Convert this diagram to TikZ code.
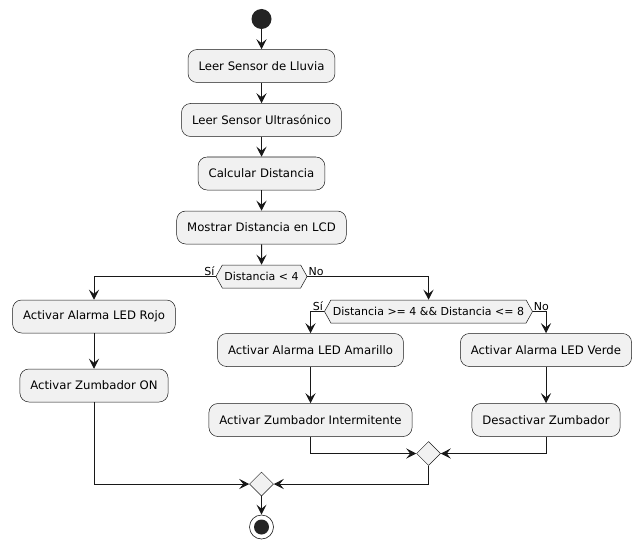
\documentclass[tikz,border=0pt]{standalone}
\usepackage{fontspec}
\setmainfont{DejaVu Sans}
\usetikzlibrary{arrows.meta,shapes.geometric,shapes.symbols}
\definecolor{umlfill}{HTML}{F1F1F1}
\definecolor{umlline}{HTML}{181818}
\tikzset{
	act/.style={draw=umlline, fill=umlfill, line width=0.5pt, rounded corners=9pt, minimum height=33pt, inner xsep=10.5pt, font=\fontsize{11.7}{14}\selectfont},
	cond/.style={signal, signal to=west and east, signal pointer angle=122, draw=umlline, fill=umlfill, line width=0.5pt, minimum height=23pt, inner xsep=2pt, inner ysep=2pt, font=\fontsize{11}{13}\selectfont},
	merge/.style={diamond, draw=umlline, fill=umlfill, line width=0.5pt, minimum size=24pt, inner sep=0pt},
	lbl/.style={inner sep=1pt, font=\fontsize{11}{13}\selectfont},
	flow/.style={draw=umlline, line width=1pt, -{Stealth[length=10pt, width=10pt, inset=4pt]}}
}
\begin{document}
\begin{tikzpicture}[x=1pt, y=-1pt]
	\useasboundingbox (0,0) rectangle (644,548);
	
	\node[circle, fill=umlline!95!white, minimum size=20pt, inner sep=0pt] (start) at (261.5,19) {};
	\node[act] (lluvia) at (261.5,66) {Leer Sensor de Lluvia};
	\node[act] (ultra) at (261.5,120) {Leer Sensor Ultrasónico};
	\node[act] (calc) at (261.5,173.5) {Calcular Distancia};
	\node[act] (lcd) at (261.5,227.5) {Mostrar Distancia en LCD};
	\node[cond] (dA) at (261.5,276.5) {Distancia < 4};
	
	\node[act] (rojo) at (94,316.5) {Activar Alarma LED Rojo};
	\node[act] (zon) at (94,385.5) {Activar Zumbador ON};
	
	\node[cond] (dB) at (428.5,311.5) {Distancia >= 4 \&\& Distancia <= 8};
	\node[act] (amarillo) at (310.5,350) {Activar Alarma LED Amarillo};
	\node[act] (zint) at (310.5,420) {Activar Zumbador Intermitente};
	\node[act] (verde) at (546,350) {Activar Alarma LED Verde};
	\node[act] (zoff) at (546,420) {Desactivar Zumbador};
	
	\node[merge] (mB) at (428.5,453.5) {};
	\node[merge] (mA) at (261.5,484) {};
	\node[circle, draw=umlline, line width=0.6pt, fill=white, minimum size=24pt, inner sep=0pt] (stop) at (261.5,527) {};
	\node[circle, fill=umlline!95!white, minimum size=15pt, inner sep=0pt] at (stop) {};
	
	\foreach \a/\b in {start/lluvia, lluvia/ultra, ultra/calc, calc/lcd, lcd/dA, rojo/zon, amarillo/zint, verde/zoff, mA/stop}{
		\draw[flow] (\a) -- (\b);
	}
	
	\draw[flow] (dA.west) -| (rojo.north);
	\draw[flow] (dA.east) -| (dB.north);
	\draw[flow] (dB.west) -| (amarillo.north);
	\draw[flow] (dB.east) -| (verde.north);
	\draw[flow] (zint.south) |- (mB.west);
	\draw[flow] (zoff.south) |- (mB.east);
	\draw[flow] (mB.south) |- (mA.east);
	\draw[flow] (zon.south) |- (mA.west);
	
	\node[lbl, anchor=south east] (siA) at (dA.west) {Sí};
	\node[lbl, anchor=south west] (noA) at (dA.east) {No};
	\node[lbl, anchor=south east] (siB) at (dB.west) {Sí};
	\node[lbl, anchor=south west] (noB) at (dB.east) {No};
\end{tikzpicture}
\end{document}
